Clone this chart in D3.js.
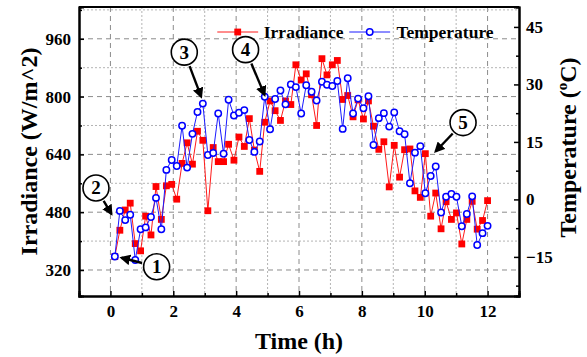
<!DOCTYPE html>
<html>
<head>
<meta charset="utf-8">
<script src="https://cdn.jsdelivr.net/npm/d3@7"></script>
<style>
  body { margin: 0; background: #fff; }
  svg text { font-family: "Liberation Serif", "Times New Roman", serif; font-weight: bold; }
</style>
</head>
<body>
<div id="chart"></div>
<script>
// time of each sample (h)
var times = [0.14, 0.30, 0.47, 0.63, 0.79, 0.96, 1.12, 1.29, 1.45, 1.62, 1.78, 1.95, 2.11,
  2.28, 2.44, 2.61, 2.77, 2.94, 3.10, 3.27, 3.43, 3.60, 3.76, 3.93, 4.09, 4.26, 4.42,
  4.58, 4.75, 4.91, 5.08, 5.24, 5.41, 5.57, 5.74, 5.90, 6.07, 6.23, 6.40, 6.56, 6.73,
  6.89, 7.06, 7.22, 7.39, 7.55, 7.72, 7.88, 8.05, 8.21, 8.37, 8.54, 8.70, 8.87, 9.03,
  9.20, 9.36, 9.53, 9.69, 9.86, 10.02, 10.19, 10.35, 10.52, 10.68, 10.85, 11.01,
  11.18, 11.34, 11.51, 11.67, 11.84, 12.00];

// irradiance (W/m^2)
var irradiance = [357, 430, 486, 505, 393, 373, 469, 417, 551, 460, 553, 557, 516,
  615, 672, 613, 704, 679, 484, 659, 620, 620, 668, 624, 688, 662, 739,
  652, 593, 729, 788, 761, 734, 788, 778, 888, 846, 863, 805, 720, 905,
  860, 888, 900, 792, 803, 744, 791, 738, 788, 718, 654, 675, 550, 665,
  577, 653, 655, 539, 521, 642, 469, 533, 434, 509, 460, 478,
  392, 460, 510, 433, 457, 512];

// temperature (oC)
var temperature = [-14.9, -3.0, -5.4, -4.0, -15.8, -7.8, -7.3, -4.6, 0.4, -7.8, 7.7, 10.3, 8.7,
  19.2, 8.3, 17.1, 22.8, 25.0, 11.6, 12.1, 22.4, 11.9, 26.0, 21.9, 22.6, 23.3, 15.5,
  12.4, 15.1, 26.8, 18.3, 26.2, 28.4, 24.8, 30.0, 29.3, 22.4, 29.8, 28.1, 25.8, 30.7,
  29.9, 29.6, 30.9, 18.4, 31.6, 22.4, 26.3, 23.8, 26.9, 14.2, 21.2, 22.5, 19.0, 22.7,
  17.8, 17.0, 4.2, 12.2, 13.9, 1.6, 6.1, 8.6, -3.4, 0.7, 1.4, 0.7,
  -7.0, -3.8, 0.8, -11.9, -8.8, -6.9];

var xTicks = [0, 2, 4, 6, 8, 10, 12];
var leftTicks = [320, 480, 640, 800, 960];
var rightTicks = [-15, 0, 15, 30, 45];

// numbered callouts: [label, circle (time, irradiance), arrow tip (time, irradiance)]
var callouts = [
  ["1", 1.47, 329, 0.26, 356],
  ["2", -0.46, 547, 0.08, 468],
  ["3", 2.35, 923, 2.92, 792],
  ["4", 4.30, 930, 4.94, 797],
  ["5", 11.22, 728, 10.28, 642]
];

var margin = {top: 7, right: 68, bottom: 61, left: 79},
    width = 587 - margin.left - margin.right,
    height = 357 - margin.top - margin.bottom;

var svg = d3.select("#chart")
  .append("svg")
    .attr("width", width + margin.left + margin.right)
    .attr("height", height + margin.top + margin.bottom)
  .append("g")
    .attr("transform", "translate(" + margin.left + "," + margin.top + ")");

var x = d3.scaleLinear().domain([-1, 13]).range([0, width]);
var yL = d3.scaleLinear().domain([248, 1048]).range([height, 0]);
var yR = d3.scaleLinear().domain([-25.2, 50.2]).range([height, 0]);

// grid
var grid = svg.append("g");
d3.range(0, 13, 1).forEach(function(v) {
  grid.append("line")
    .attr("x1", x(v)).attr("x2", x(v)).attr("y1", 0).attr("y2", height)
    .attr("stroke", v % 2 === 0 ? "#8c8c8c" : "#b4b4b4")
    .attr("stroke-width", 1)
    .attr("stroke-dasharray", v % 2 === 0 ? "5,4" : "2,2");
});
d3.range(320, 1041, 80).forEach(function(v) {
  var major = leftTicks.indexOf(v) >= 0;
  grid.append("line")
    .attr("x1", 0).attr("x2", width).attr("y1", yL(v)).attr("y2", yL(v))
    .attr("stroke", major ? "#8c8c8c" : "#b4b4b4")
    .attr("stroke-width", 1)
    .attr("stroke-dasharray", major ? "5,4" : "2,2");
});

// series
var irrLine = d3.line().x(function(d, i) { return x(times[i]); }).y(function(d) { return yL(d); });
var tempLine = d3.line().x(function(d, i) { return x(times[i]); }).y(function(d) { return yR(d); });

svg.append("path").datum(irradiance)
  .attr("d", irrLine).attr("fill", "none").attr("stroke", "#ff1a1a").attr("stroke-width", 1);
svg.selectAll(".sq").data(irradiance).enter().append("rect")
  .attr("x", function(d, i) { return x(times[i]) - 3.4; })
  .attr("y", function(d) { return yL(d) - 3.4; })
  .attr("width", 6.8).attr("height", 6.8)
  .attr("fill", "#ff0000");

svg.append("path").datum(temperature)
  .attr("d", tempLine).attr("fill", "none").attr("stroke", "#1a1aff").attr("stroke-width", 1);
svg.selectAll(".ci").data(temperature).enter().append("circle")
  .attr("cx", function(d, i) { return x(times[i]); })
  .attr("cy", function(d) { return yR(d); })
  .attr("r", 3.2)
  .attr("fill", "#fff").attr("stroke", "#0000ff").attr("stroke-width", 1.5);

// axes
var fs = "17px";
svg.append("g").attr("transform", "translate(0," + height + ")")
  .call(d3.axisBottom(x).tickValues(xTicks).tickSize(-5).tickPadding(9).tickFormat(d3.format("d")));
svg.append("g").attr("transform", "translate(0," + height + ")")
  .call(d3.axisBottom(x).tickValues([1, 3, 5, 7, 9, 11]).tickSize(-3).tickFormat(""));
svg.append("g")
  .call(d3.axisLeft(yL).tickValues(leftTicks).tickSize(-5).tickPadding(8));
svg.append("g")
  .call(d3.axisLeft(yL).tickValues([400, 560, 720, 880, 1040]).tickSize(-3).tickFormat(""));
svg.append("g").attr("transform", "translate(" + width + ",0)")
  .call(d3.axisRight(yR).tickValues(rightTicks).tickSize(-5).tickPadding(7));
svg.append("g").attr("transform", "translate(" + width + ",0)")
  .call(d3.axisRight(yR).tickValues([-22.5, -7.5, 7.5, 22.5, 37.5]).tickSize(-3).tickFormat(""));

svg.selectAll(".domain").attr("stroke", "#000").attr("stroke-width", 2);
svg.selectAll(".tick line").attr("stroke", "#000").attr("stroke-width", 1.5);
svg.selectAll(".tick text").attr("font-size", fs).attr("fill", "#000")
  .attr("font-family", "Liberation Serif").attr("font-weight", "bold");

// top frame
svg.append("line").attr("x1", 0).attr("x2", width).attr("y1", 0).attr("y2", 0)
  .attr("stroke", "#000").attr("stroke-width", 2);

// axis titles
svg.append("text")
  .attr("x", width / 2).attr("y", height + 53)
  .attr("text-anchor", "middle").attr("font-size", "24px")
  .text("Time (h)");
svg.append("text")
  .attr("transform", "translate(" + (-42) + "," + (height / 2) + ") rotate(-90)")
  .attr("text-anchor", "middle").attr("font-size", "24px")
  .text("Irradiance (W/m^2)");
var rt = svg.append("text")
  .attr("transform", "translate(" + (width + 57) + "," + (height / 2 - 4) + ") rotate(-90)")
  .attr("text-anchor", "middle").attr("font-size", "24px");
rt.append("tspan").text("Temperature (");
rt.append("tspan").attr("font-size", "15px").attr("dy", -9).text("o");
rt.append("tspan").attr("dy", 9).text("C)");

// legend
var lg = svg.append("g");
lg.append("line").attr("x1", x(3.4)).attr("x2", x(4.7)).attr("y1", 25).attr("y2", 25)
  .attr("stroke", "#ff1a1a").attr("stroke-width", 1);
lg.append("rect").attr("x", x(4.05) - 3.4).attr("y", 25 - 3.4).attr("width", 6.8).attr("height", 6.8)
  .attr("fill", "#ff0000");
lg.append("text").attr("x", x(4.88)).attr("y", 31).attr("font-size", "17.5px").text("Irradiance");
lg.append("line").attr("x1", x(7.6)).attr("x2", x(8.9)).attr("y1", 25).attr("y2", 25)
  .attr("stroke", "#1a1aff").attr("stroke-width", 1);
lg.append("circle").attr("cx", x(8.25)).attr("cy", 25).attr("r", 3.2)
  .attr("fill", "#fff").attr("stroke", "#0000ff").attr("stroke-width", 1.5);
lg.append("text").attr("x", x(9.1)).attr("y", 31).attr("font-size", "17.5px").text("Temperature");

// callouts
svg.append("defs").append("marker")
  .attr("id", "arrow").attr("viewBox", "0 0 10 10")
  .attr("refX", 8).attr("refY", 5)
  .attr("markerWidth", 4.5).attr("markerHeight", 4.5)
  .attr("orient", "auto")
  .append("path").attr("d", "M0,0L10,5L0,10z").attr("fill", "#000");

callouts.forEach(function(c) {
  var cx = x(c[1]), cy = yL(c[2]), tx = x(c[3]), ty = yL(c[4]);
  var ang = Math.atan2(ty - cy, tx - cx), r = 13;
  svg.append("line")
    .attr("x1", cx + (r + 2) * Math.cos(ang)).attr("y1", cy + (r + 2) * Math.sin(ang))
    .attr("x2", tx - 3 * Math.cos(ang)).attr("y2", ty - 3 * Math.sin(ang))
    .attr("stroke", "#000").attr("stroke-width", 2.4)
    .attr("marker-end", "url(#arrow)");
  svg.append("circle").attr("cx", cx).attr("cy", cy).attr("r", r)
    .attr("fill", "#fff").attr("stroke", "#000").attr("stroke-width", 1.6);
  svg.append("text").attr("x", cx).attr("y", cy + 6.5)
    .attr("text-anchor", "middle").attr("font-size", "19px").text(c[0]);
});
</script>
</body>
</html>
